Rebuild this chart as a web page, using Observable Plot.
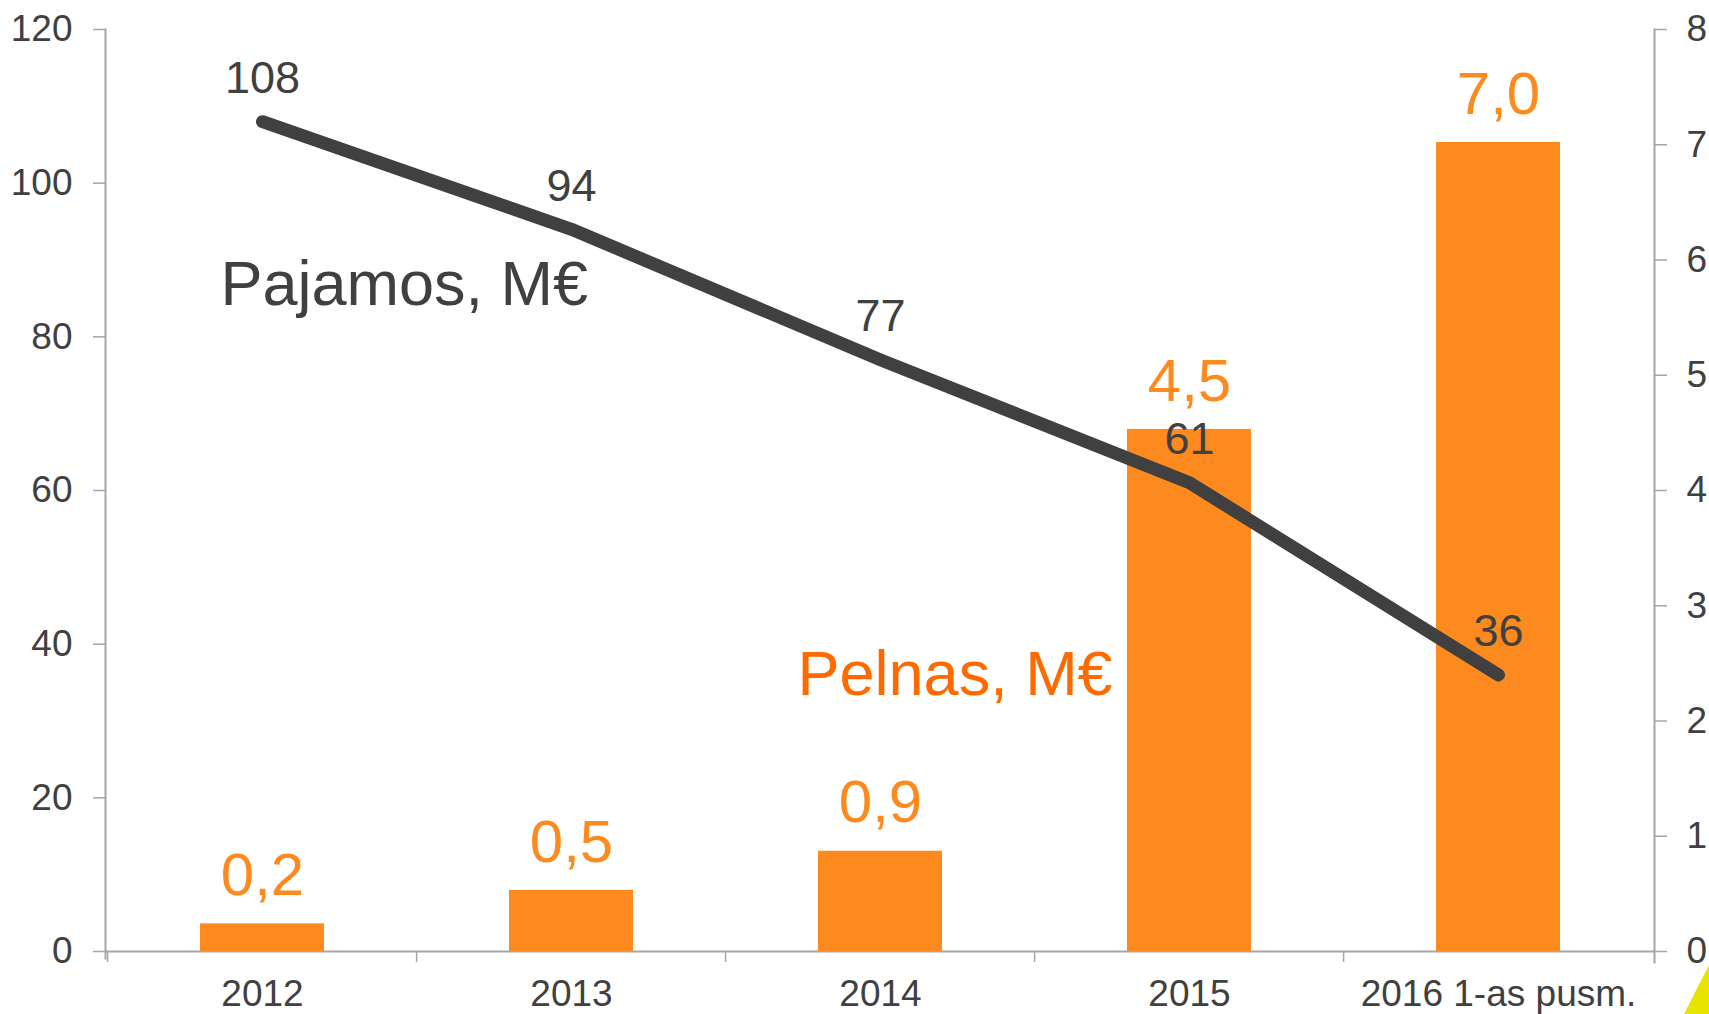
<!DOCTYPE html>
<html>
<head>
<meta charset="utf-8">
<script src="https://cdn.jsdelivr.net/npm/d3@7"></script>
<script src="https://cdn.jsdelivr.net/npm/@observablehq/plot@0.6"></script>
<style>
  html, body { margin: 0; padding: 0; background: #ffffff; overflow: hidden; }
  #chart { position: relative; width: 1709px; height: 1014px; }
  #chart svg { display: block; }
  #corner {
    position: absolute; right: 0; bottom: 0; width: 25px; height: 49px;
    background: #E8E300;
    clip-path: polygon(100% 0, 100% 100%, 0 100%);
  }
</style>
</head>
<body>
<div id="chart"></div>
<script>
// ---- data ----
const categories = ["2012", "2013", "2014", "2015", "2016 1-as pusm."];
const revenue = [108, 94, 77, 61, 36];          // Pajamos, M€ (left axis)
const profit = [0.24, 0.53, 0.87, 4.53, 7.02];   // Pelnas, M€ (right axis)
const leftTicks = [0, 20, 40, 60, 80, 100, 120];
const rightTicks = [0, 1, 2, 3, 4, 5, 6, 7, 8];
const seriesNames = ["Pajamos, M€", "Pelnas, M€"];

const leftMax = 120, rightMax = 8;
const ratio = leftMax / rightMax;

const rows = categories.map((c, i) => ({cat: c, revenue: revenue[i], profit: profit[i]}));

const W = 1709, H = 1014;
const mL = 105, mR = 55, mT = 29, mB = 63;
const step = (W - mL - mR) / categories.length;

const gray = "#A6A6A6";
const dark = "#404040";
const orange = "#FD8A1E";
const orangeTitle = "#FF6A00";

const chart = Plot.plot({
  width: W, height: H,
  marginLeft: mL, marginRight: mR, marginTop: mT, marginBottom: mB,
  style: {fontFamily: "'Liberation Sans', Arial, sans-serif", background: "#ffffff", overflow: "visible"},
  x: {domain: categories, paddingInner: 0.6, paddingOuter: 0.3, axis: null, label: null},
  y: {domain: [0, leftMax], axis: null, label: null},
  marks: [
    // axis lines
    Plot.frame({anchor: "left", stroke: gray, strokeWidth: 2, insetBottom: -7}),
    Plot.frame({anchor: "right", stroke: gray, strokeWidth: 2, insetBottom: -11}),
    Plot.ruleY([0], {stroke: gray, strokeWidth: 2}),
    // category boundary ticks
    Plot.axisX({anchor: "bottom", label: null, tickSize: 11, text: null, dx: -step / 2, color: gray, strokeWidth: 1.5}),
    // left ticks + labels
    Plot.axisY({anchor: "left", label: null, ticks: leftTicks, tickSize: 12, text: null, color: gray, strokeWidth: 1.5}),
    Plot.axisY({anchor: "left", label: null, ticks: leftTicks, tickSize: 0, tickPadding: 33, fontSize: 37, color: dark}),
    // right ticks + labels
    Plot.axisY({anchor: "right", label: null, ticks: rightTicks.map(v => v * ratio), tickSize: 12, text: null, color: gray, strokeWidth: 1.5}),
    Plot.axisY({anchor: "right", label: null, ticks: rightTicks.map(v => v * ratio), tickFormat: d => String(Math.round(d / ratio)), tickSize: 0, tickPadding: 32, fontSize: 37, color: dark}),
    // x labels
    Plot.axisX({anchor: "bottom", label: null, tickSize: 0, tickPadding: 28, fontSize: 37, color: dark}),
    // bars (profit)
    Plot.barY(rows, {x: "cat", y: d => d.profit * ratio, fill: orange}),
    // line (revenue)
    Plot.line(rows, {x: "cat", y: "revenue", stroke: dark, strokeWidth: 13, strokeLinecap: "round", strokeLinejoin: "round"}),
    // labels
    Plot.text(rows, {x: "cat", y: d => d.profit * ratio, text: d => d.profit.toFixed(1).replace(".", ","), dy: -48, fontSize: 60, fill: orange}),
    Plot.text(rows, {x: "cat", y: "revenue", text: d => String(d.revenue), dy: -43, fontSize: 45, fill: dark}),
    // series annotations
    Plot.text([seriesNames[0]], {frameAnchor: "top-left", textAnchor: "start", lineAnchor: "middle", dx: 115, dy: 255, fontSize: 63, fill: dark}),
    Plot.text([seriesNames[1]], {frameAnchor: "top-left", textAnchor: "start", lineAnchor: "middle", dx: 692, dy: 645, fontSize: 63, fill: orangeTitle})
  ]
});

const host = document.getElementById("chart");
host.appendChild(chart);
const corner = document.createElement("div");
corner.id = "corner";
host.appendChild(corner);
</script>
</body>
</html>
